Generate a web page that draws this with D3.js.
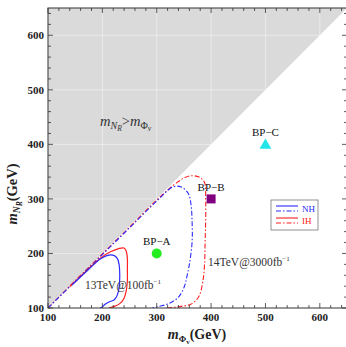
<!DOCTYPE html>
<html><head><meta charset="utf-8">
<script src="https://cdn.jsdelivr.net/npm/d3@7"></script>
<style>body{margin:0;background:#fff}svg{display:block}</style>
</head><body>
<svg id="c" width="346" height="347"></svg>
<script>
// ---- data ----
const xDomain = [100, 650];
const yDomain = [100, 650];
const majorTicks = [100, 200, 300, 400, 500, 600];
const minorTicks = d3.range(100, 651, 20);

// 13 TeV @ 100 fb^-1 (solid)
const nh13 = [[144,142],[160,157],[175,171],[190,185],[200,192],[212,197],[222,196],[228,190],[231,178],[232,160],[231,140],[228,125],[222,115],[212,111],[205,107],[200,102],[196,100]];
const ih13 = [[140,139],[160,158],[180,177],[200,194],[215,203],[230,209],[240,210],[244,204],[246,190],[246,170],[246,150],[244,132],[240,118],[232,108],[222,103],[212,100]];
// 14 TeV @ 3000 fb^-1 (dash-dot)
const nh14 = [[100,100],[150,149],[200,198],[250,247],[300,296],[330,322],[345,322],[358,310],[363,290],[365,260],[365,220],[360,180],[356,160],[351,140],[340,120],[322,108],[305,103],[292,100]];
const ih14 = [[100,100],[150,150],[200,199],[250,248],[300,298],[340,332],[360,342],[378,340],[388,330],[390,300],[390,260],[389,220],[388,180],[385,150],[378,122],[365,108],[345,103],[318,100]];

const benchmarks = [
  {name:"BP-A", x:300, y:200, shape:"circle", color:"#22ee22"},
  {name:"BP-B", x:400, y:300, shape:"square", color:"#800080"},
  {name:"BP-C", x:500, y:400, shape:"triangle", color:"#22e5ea"}
];
const legendItems = [
  {label:"NH", color:"#2a2aff"},
  {label:"IH", color:"#ff2020"}
];

// ---- layout ----
const svg = d3.select("#c");
const L = 48, R = 347, T = 8, B = 308;
const x = d3.scaleLinear().domain(xDomain).range([L, R]);
const y = d3.scaleLinear().domain(yDomain).range([B, T]);
const blue = "#2a2aff", red = "#ff2020";
const serif = "'Liberation Serif','DejaVu Serif',serif";

const defs = svg.append("defs");
defs.append("clipPath").attr("id","clip").append("rect")
  .attr("x",L).attr("y",T).attr("width",R-L).attr("height",B-T);

const g = svg.append("g").attr("clip-path","url(#clip)");
// excluded region m_N > m_Phi
g.append("path")
  .attr("d", d3.line()([[x(100),y(100)],[x(650),y(650)],[x(100),y(650)]]) + "Z")
  .attr("fill","#dadada");
// faint grid
majorTicks.forEach(v=>{
  g.append("line").attr("x1",x(v)).attr("x2",x(v)).attr("y1",T).attr("y2",B)
    .attr("stroke","#ffffff").attr("stroke-opacity",0.55).attr("stroke-width",0.8);
  g.append("line").attr("y1",y(v)).attr("y2",y(v)).attr("x1",L).attr("x2",R)
    .attr("stroke","#ffffff").attr("stroke-opacity",0.55).attr("stroke-width",0.8);
});

const line = d3.line().x(d=>x(d[0])).y(d=>y(d[1])).curve(d3.curveCatmullRom.alpha(0.5));
const dd = "5,2,1.5,2";
g.append("path").attr("d",line(ih14)).attr("fill","none").attr("stroke",red).attr("stroke-width",1.1).attr("stroke-dasharray",dd);
g.append("path").attr("d",line(nh14)).attr("fill","none").attr("stroke",blue).attr("stroke-width",1.1).attr("stroke-dasharray",dd);
g.append("path").attr("d",line(ih13)).attr("fill","none").attr("stroke",red).attr("stroke-width",1.2);
g.append("path").attr("d",line(nh13)).attr("fill","none").attr("stroke",blue).attr("stroke-width",1.2);

// frame
svg.append("rect").attr("x",L).attr("y",T).attr("width",R-L).attr("height",B-T)
  .attr("fill","none").attr("stroke","#333").attr("stroke-width",1);

// ticks (inward) on all sides
const tk = svg.append("g").attr("stroke","#333").attr("stroke-width",0.8);
minorTicks.forEach(v=>{
  const len = majorTicks.includes(v) ? 5 : 3;
  tk.append("line").attr("x1",x(v)).attr("x2",x(v)).attr("y1",B).attr("y2",B-len);
  tk.append("line").attr("x1",x(v)).attr("x2",x(v)).attr("y1",T).attr("y2",T+len);
  tk.append("line").attr("y1",y(v)).attr("y2",y(v)).attr("x1",L).attr("x2",L+len);
  tk.append("line").attr("y1",y(v)).attr("y2",y(v)).attr("x1",R).attr("x2",R-len);
});
majorTicks.forEach(v=>{
  svg.append("text").attr("x",x(v)).attr("y",B+13).attr("text-anchor","middle")
    .attr("font-family",serif).attr("font-weight","bold").attr("font-size",11).attr("fill","#222").text(v);
  svg.append("text").attr("x",L-4).attr("y",y(v)+4).attr("text-anchor","end")
    .attr("font-family",serif).attr("font-weight","bold").attr("font-size",11).attr("fill","#222").text(v);
});

// axis titles
const xt = svg.append("text").attr("x",197).attr("y",339).attr("text-anchor","middle")
  .attr("font-family",serif).attr("font-weight","bold").attr("font-size",14).attr("fill","#222");
xt.append("tspan").attr("font-style","italic").text("m");
xt.append("tspan").attr("font-size",9).attr("dy",3).text("Φ");
xt.append("tspan").attr("font-size",7).attr("dy",2).text("v");
xt.append("tspan").attr("dy",-5).text("(GeV)");

const yt = svg.append("text").attr("transform","translate(17,194) rotate(-90)").attr("text-anchor","middle")
  .attr("font-family",serif).attr("font-weight","bold").attr("font-size",14.5).attr("fill","#222");
yt.append("tspan").attr("font-style","italic").text("m");
yt.append("tspan").attr("font-size",9.5).attr("font-style","italic").attr("dy",3).text("N");
yt.append("tspan").attr("font-size",7.5).attr("font-style","italic").attr("dy",2).text("R");
yt.append("tspan").attr("dy",-5).text("(GeV)");

// region label
const rl = svg.append("text").attr("x",100).attr("y",126)
  .attr("font-family",serif).attr("font-size",14.5).attr("fill","#333");
rl.append("tspan").attr("font-style","italic").text("m");
rl.append("tspan").attr("font-size",10).attr("font-style","italic").attr("dy",3).text("N");
rl.append("tspan").attr("font-size",7.5).attr("font-style","italic").attr("dy",2).text("R");
rl.append("tspan").attr("dy",-5).text(">");
rl.append("tspan").attr("font-style","italic").text("m");
rl.append("tspan").attr("font-size",10).attr("dy",3).text("Φ");
rl.append("tspan").attr("font-size",7.5).attr("font-style","italic").attr("dy",2).text("v");

// contour labels
function lumiLabel(tx, ty, a, b){
  const t = svg.append("text").attr("x",tx).attr("y",ty)
    .attr("font-family",serif).attr("font-size",11.5).attr("fill","#333");
  t.append("tspan").text(a);
  t.append("tspan").attr("font-size",7).attr("dy",-5).text(b);
}
lumiLabel(85, 289, "13TeV@100fb", "−1");
lumiLabel(208, 266, "14TeV@3000fb", "−1");

// benchmark points
benchmarks.forEach(p=>{
  const cx = x(p.x), cy = y(p.y);
  if(p.shape==="circle"){
    svg.append("circle").attr("cx",cx).attr("cy",cy).attr("r",5).attr("fill",p.color);
  } else if(p.shape==="square"){
    svg.append("rect").attr("x",cx-4.5).attr("y",cy-4.5).attr("width",9).attr("height",9).attr("fill",p.color);
  } else {
    svg.append("path").attr("d",d3.symbol(d3.symbolTriangle,60)()).attr("transform",`translate(${cx},${cy+1})`).attr("fill",p.color);
  }
  svg.append("text").attr("x",cx).attr("y",cy-8).attr("text-anchor","middle")
    .attr("font-family",serif).attr("font-size",11).attr("fill","#111").text(p.name.replace("-","−"));
});

// legend
const lg = svg.append("g");
lg.append("rect").attr("x",271).attr("y",200).attr("width",47).attr("height",30)
  .attr("fill","#fff").attr("stroke","#777").attr("stroke-width",0.8);
legendItems.forEach((it,i)=>{
  const y0 = 206 + i*12;
  lg.append("line").attr("x1",276).attr("x2",298).attr("y1",y0).attr("y2",y0).attr("stroke",it.color).attr("stroke-width",1.1);
  lg.append("line").attr("x1",276).attr("x2",298).attr("y1",y0+5).attr("y2",y0+5).attr("stroke",it.color).attr("stroke-width",1.1).attr("stroke-dasharray","5,2,1.5,2");
  lg.append("text").attr("x",302).attr("y",y0+6).attr("font-family",serif).attr("font-size",9).attr("fill",it.color).text(it.label);
});
</script>
</body></html>
